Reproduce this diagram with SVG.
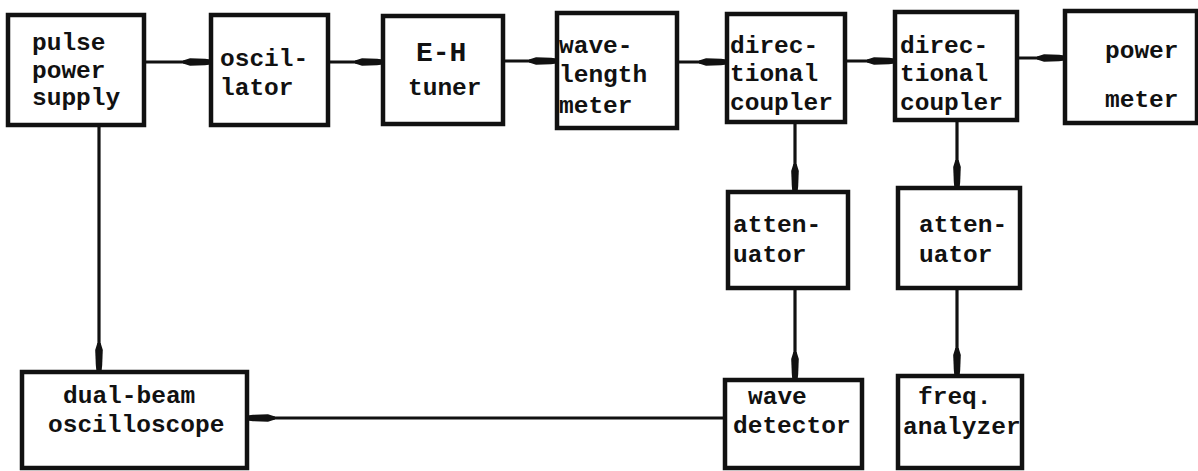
<svg xmlns="http://www.w3.org/2000/svg" width="1198" height="471" viewBox="0 0 1198 471">
<style>
.box{fill:#fff;stroke:#111;stroke-width:4.5}
.t{font-family:"Liberation Mono","Courier New",monospace;font-size:24.5px;font-weight:bold;fill:#111}
.big{font-size:28px}
.c{fill:none;stroke:#111;stroke-width:3.2;marker-end:url(#blob)}
</style>
<defs>
<marker id="blob" markerUnits="userSpaceOnUse" markerWidth="32" markerHeight="12" viewBox="-30 -6 32 12" refX="0" refY="0" orient="auto">
<path d="M-28,-1.6 L-21,-3.8 L-6,-3.2 L0,-2.6 L0,2.6 L-6,3.2 L-21,3.8 L-28,1.6 Z" fill="#111"/>
</marker>
</defs>
<rect width="1198" height="471" fill="#fff"/>
<g id="connectors">
<line class="c" x1="146" y1="62" x2="211" y2="62"/>
<line class="c" x1="328" y1="62" x2="383" y2="62"/>
<line class="c" x1="503" y1="61" x2="557" y2="61"/>
<line class="c" x1="677" y1="62" x2="727" y2="62"/>
<line class="c" x1="845" y1="61" x2="895" y2="61"/>
<line class="c" x1="1017" y1="58" x2="1065" y2="58"/>
<line class="c" x1="99" y1="125" x2="99" y2="371"/>
<line class="c" x1="795" y1="122" x2="795" y2="192"/>
<line class="c" x1="957" y1="120" x2="957" y2="188"/>
<line class="c" x1="795" y1="288" x2="795" y2="380"/>
<line class="c" x1="957" y1="288" x2="957" y2="376"/>
<line class="c" x1="725" y1="418" x2="247" y2="418"/>
</g>
<g id="pulse-power-supply">
<rect class="box" x="8" y="15" width="136" height="110"/>
<text class="t" x="32" y="50">pulse</text>
<text class="t" x="32" y="78">power</text>
<text class="t" x="32" y="105">supply</text>
</g>
<g id="oscillator">
<rect class="box" x="211" y="15" width="117" height="110"/>
<text class="t" x="220" y="66">oscil-</text>
<text class="t" x="220" y="95">lator</text>
</g>
<g id="eh-tuner">
<rect class="box" x="383" y="16" width="120" height="108"/>
<text class="t big" x="416" y="61">E-H</text>
<text class="t" x="408" y="95">tuner</text>
</g>
<g id="wavelength-meter">
<rect class="box" x="557" y="13" width="120" height="115"/>
<text class="t" x="559" y="53">wave-</text>
<text class="t" x="559" y="82">length</text>
<text class="t" x="559" y="113">meter</text>
</g>
<g id="directional-coupler-1">
<rect class="box" x="727" y="14" width="118" height="108"/>
<text class="t" x="730" y="53">direc-</text>
<text class="t" x="730" y="81">tional</text>
<text class="t" x="730" y="110">coupler</text>
</g>
<g id="directional-coupler-2">
<rect class="box" x="895" y="12" width="122" height="108"/>
<text class="t" x="900" y="53">direc-</text>
<text class="t" x="900" y="81">tional</text>
<text class="t" x="900" y="110">coupler</text>
</g>
<g id="power-meter">
<rect class="box" x="1065" y="11" width="132" height="112"/>
<text class="t" x="1105" y="58">power</text>
<text class="t" x="1105" y="107">meter</text>
</g>
<g id="attenuator-1">
<rect class="box" x="728" y="192" width="120" height="96"/>
<text class="t" x="733" y="232">atten-</text>
<text class="t" x="733" y="262">uator</text>
</g>
<g id="attenuator-2">
<rect class="box" x="898" y="188" width="122" height="100"/>
<text class="t" x="919" y="232">atten-</text>
<text class="t" x="919" y="262">uator</text>
</g>
<g id="dual-beam-oscilloscope">
<rect class="box" x="22" y="372" width="225" height="96"/>
<text class="t" x="63" y="403">dual-beam</text>
<text class="t" x="48" y="432">oscilloscope</text>
</g>
<g id="wave-detector">
<rect class="box" x="725" y="380" width="137" height="88"/>
<text class="t" x="748" y="404">wave</text>
<text class="t" x="733" y="433">detector</text>
</g>
<g id="freq-analyzer">
<rect class="box" x="898" y="376" width="124" height="92"/>
<text class="t" x="918" y="404">freq.</text>
<text class="t" x="903" y="434">analyzer</text>
</g>
</svg>
